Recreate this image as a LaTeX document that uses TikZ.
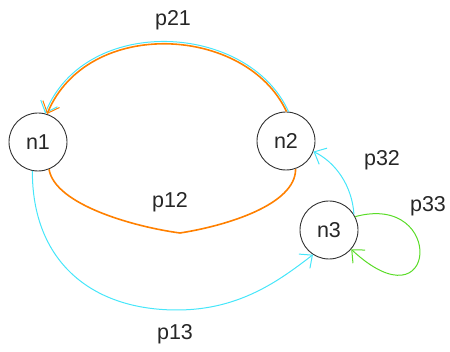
\documentclass[tikz,border=0pt]{standalone}
\usepackage{fontspec}
\setmainfont{Liberation Sans}
\usetikzlibrary{arrows.meta}
\definecolor{ecyan}{RGB}{70,230,250}
\definecolor{eorange}{RGB}{255,128,0}
\definecolor{egreen}{RGB}{90,220,40}
\definecolor{ecircle}{RGB}{50,50,50}
\tikzset{
  state/.style={circle,draw=ecircle,line width=0.9pt,minimum size=58pt,inner sep=0pt,font=\fontsize{21.5}{24}\selectfont,text=black!85},
  lbl/.style={anchor=base,inner sep=0pt,font=\fontsize{21.5}{24}\selectfont,text=black!85},
  barb/.style={-{Straight Barb[length=10pt,width=18pt,line width=1pt]}},
  cyanedge/.style={draw=ecyan,line width=1pt},
  orangeedge/.style={draw=eorange,line width=1.6pt},
  greenedge/.style={draw=egreen,line width=1pt},
}
\begin{document}
\begin{tikzpicture}[x=1pt,y=-1pt]
\useasboundingbox (0,0) rectangle (450,352);
\node[state] (n1) at (38,142) {n1};
\node[state] (n2) at (286,141) {n2};
\node[state] (n3) at (329,230) {n3};
\coordinate (c12) at (180,233);
\coordinate (c13) at (177,310);
% p21
\draw[cyanedge,barb] (n2.85) .. controls (248,22) and (85,14) .. (n1.76);
\draw[orangeedge,barb] (n2.89) .. controls (246,25) and (87,17) .. (n1.72);
% p12
\draw[orangeedge] (n1.-68) .. controls (55,205) and (135,227) .. (c12)
   .. controls (225,226) and (296,205) .. (n2.-71);
% p13
\draw[cyanedge,barb] (n1.-101) .. controls (32,260) and (90,310) .. (c13)
   .. controls (240,310) and (280,280) .. (n3.-123);
% p32
\draw[cyanedge,barb] (n3.32) .. controls (352,185) and (335,162) .. (n2.-21);
% p33
\draw[greenedge,barb] (n3.27) .. controls (446,192) and (438,330) .. (n3.-41);
% labels
\node[lbl] (l21) at (173,26) {p21};
\node[lbl] (l12) at (170,208) {p12};
\node[lbl] (l13) at (175,340) {p13};
\node[lbl] (l32) at (382,166) {p32};
\node[lbl] (l33) at (428,212) {p33};
\end{tikzpicture}
\end{document}
